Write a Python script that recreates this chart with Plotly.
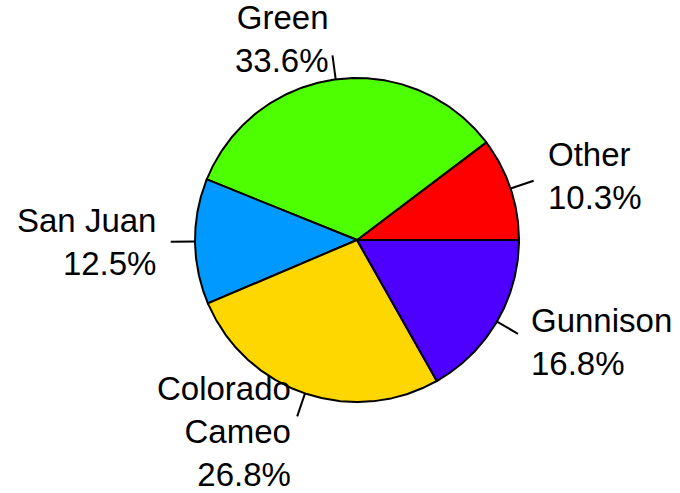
import numpy as np
import plotly.graph_objects as go

labels = ["Other", "Green", "San Juan", "Colorado<br>Cameo", "Gunnison"]
shares = [10.3, 33.6, 12.5, 26.8, 16.8]
colors = ["#FF0000", "#4DFF00", "#0099FF", "#FFD700", "#4D00FF"]

fig = go.Figure()
total = sum(shares)
cum = 0.0
annotations = []
for name, v, c in zip(labels, shares, colors):
    a0 = 2 * np.pi * cum / total
    a1 = 2 * np.pi * (cum + v) / total
    cum += v
    t = np.linspace(a0, a1, 200)
    xs = np.concatenate([[0], np.cos(t), [0]])
    ys = np.concatenate([[0], np.sin(t), [0]])
    fig.add_trace(go.Scatter(x=xs, y=ys, mode="lines", fill="toself",
                             fillcolor=c, line=dict(color="black", width=2),
                             hoverinfo="skip", showlegend=False))
    mid = (a0 + a1) / 2
    cx, cy = np.cos(mid), np.sin(mid)
    fig.add_trace(go.Scatter(x=[cx, 1.15 * cx], y=[cy, 1.15 * cy], mode="lines",
                             line=dict(color="black", width=2),
                             hoverinfo="skip", showlegend=False))
    annotations.append(dict(
        x=1.23 * cx, y=1.25 * cy, xref="x", yref="y",
        text=f"{name}<br>{v}%", showarrow=False,
        xanchor="left" if cx > 0 else "right",
        yanchor="middle",
        align="left" if cx > 0 else "right",
        font=dict(family="Liberation Sans, Arial, sans-serif", size=33, color="black"),
    ))

W, H = 680, 493
R = 162.0
CX, CY = 357.0, 240.0
fig.update_layout(
    width=W, height=H,
    margin=dict(l=0, r=0, t=0, b=0),
    paper_bgcolor="white", plot_bgcolor="white",
    xaxis=dict(range=[-CX / R, (W - CX) / R], visible=False, fixedrange=True),
    yaxis=dict(range=[-(H - CY) / R, CY / R], visible=False, fixedrange=True),
    annotations=annotations,
    showlegend=False,
)
fig.write_html("out.html")
